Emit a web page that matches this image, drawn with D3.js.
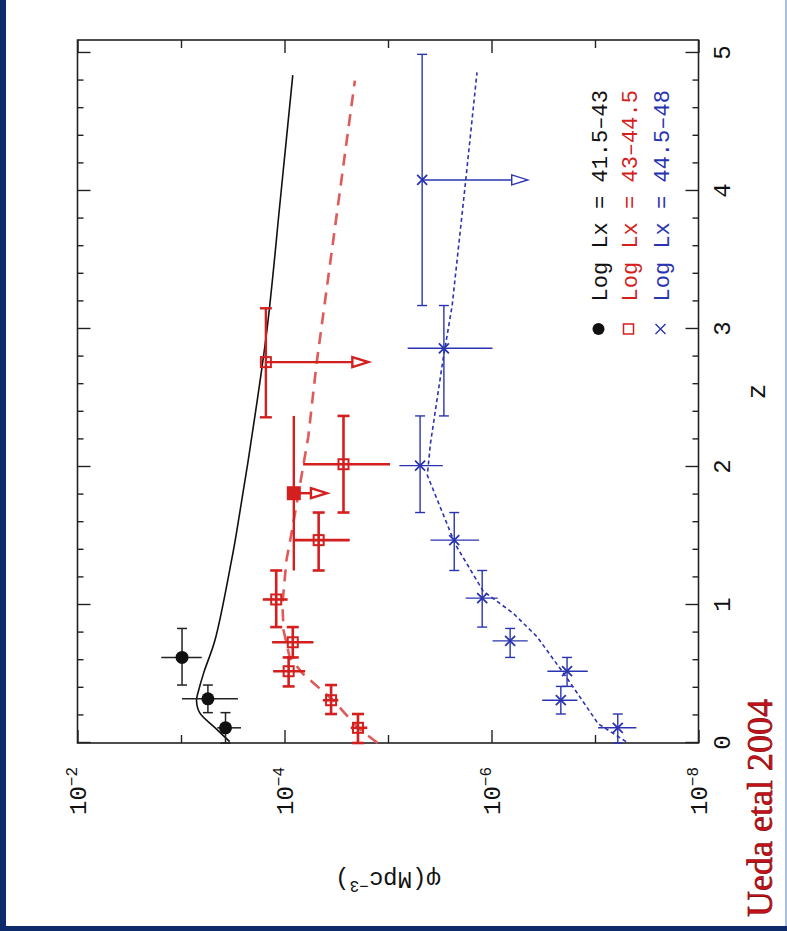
<!DOCTYPE html>
<html>
<head>
<meta charset="UTF-8">
<script src="https://d3js.org/d3.v7.min.js"></script>
<style>
  body { margin: 0; background: #fff; }
  svg { display: block; }
</style>
</head>
<body>
<svg width="787" height="931"></svg>
<script>
    // values; phi kept as log10
    // z, zLo, zHi, logPhi, logPhiHi, logPhiLo
    const blackPts = [
        [0.11, 0.00, 0.22, -3.43, -3.35, -3.58],
        [0.32, 0.22, 0.42, -3.26, -3.01, -3.55],
        [0.62, 0.42, 0.83, -3.01, -2.81, -3.20]
    ];
    const redPts = [
        [0.11, 0.00, 0.21, -4.71, -4.64, -4.80],
        [0.31, 0.21, 0.42, -4.45, -4.37, -4.52],
        [0.52, 0.41, 0.62, -4.04, -3.89, -4.20],
        [0.73, 0.62, 0.84, -4.08, -3.88, -4.28],
        [1.04, 0.84, 1.25, -3.92, -3.79, -4.03],
        [1.47, 1.25, 1.67, -4.33, -4.10, -4.63],
        [2.02, 1.67, 2.37, -4.57, -4.18, -5.02]
    ];
    // z, zLo, zHi, logPhi, arrow tip
    const redLimits = [[2.76, 2.36, 3.15, -3.82, -4.81]];
    const redFilled = [[1.81, 1.25, 2.37, -4.09, -4.41]];
    const bluePts = [
        [0.11, 0.00, 0.21, -7.22, -7.03, -7.40],
        [0.31, 0.21, 0.41, -6.67, -6.49, -6.83],
        [0.52, 0.41, 0.62, -6.73, -6.54, -6.93],
        [0.74, 0.62, 0.83, -6.18, -6.01, -6.35],
        [1.05, 0.84, 1.25, -5.91, -5.75, -6.06],
        [1.47, 1.25, 1.67, -5.64, -5.41, -5.88],
        [2.01, 1.67, 2.37, -5.31, -5.11, -5.53],
        [2.86, 2.37, 3.17, -5.54, -5.19, -6.01]
    ];
    const blueLimits = [[4.08, 3.17, 4.99, -5.33, -6.35]];

    // model curves: z, logPhi
    const blackModel = [[0.01, -3.47], [0.11, -3.33], [0.22, -3.18], [0.31, -3.15], [0.38, -3.17],
        [0.51, -3.22], [0.75, -3.33], [1.33, -3.49], [1.54, -3.54], [2.15, -3.67],
        [2.99, -3.83], [3.94, -3.96], [4.84, -4.08]];
    const redModel = [[0.0, -4.90], [0.11, -4.71], [0.31, -4.47], [0.50, -4.18], [0.62, -4.05],
        [0.82, -3.99], [1.01, -3.98], [1.33, -4.02], [1.57, -4.08], [2.22, -4.23], [2.75, -4.31],
        [3.36, -4.42], [4.80, -4.68]];
    const blueModel = [[0.01, -7.30], [0.14, -7.03], [0.47, -6.73], [0.77, -6.44], [0.94, -6.21],
        [1.10, -5.92], [1.44, -5.65], [1.94, -5.38], [2.17, -5.41], [2.77, -5.53],
        [3.17, -5.62], [4.07, -5.75], [4.86, -5.86]];

    const zTicks = [0, 1, 2, 3, 4, 5];
    const phiMajor = [-2, -4, -6, -8];
    const phiMinor = [-3, -5, -7];
    const legendLabels = ["Log Lx = 41.5\u201343", "Log Lx = 43\u201344.5", "Log Lx = 44.5\u201348"];

    const black = "#111", red = "#d41f1f", redLine = "#e05a5a", blue = "#2a34b0";
    const mono = "'Liberation Mono', 'DejaVu Sans Mono', monospace";

    const W = 703, H = 621;
    const svg = d3.select("svg");

    // page frame
    svg.append("rect").attr("width", 787).attr("height", 931).attr("fill", "#fff");
    svg.append("rect").attr("x", 0).attr("y", 0).attr("width", 6).attr("height", 931).attr("fill", "#0d2a6b");
    svg.append("rect").attr("x", 0).attr("y", 926).attr("width", 787).attr("height", 5).attr("fill", "#0d2a6b");
    svg.append("rect").attr("x", 785).attr("y", 0).attr("width", 2).attr("height", 926).attr("fill", "#a9bde0");

    // the whole plot is turned a quarter turn
    const g = svg.append("g").attr("transform", "translate(77.5,743) rotate(-90)");

    const x = d3.scaleLinear().domain([0, 5.094]).range([0, W]);
    const y = d3.scaleLog().domain([1e-2, 1e-8]).range([0, H]);
    const py = v => y(Math.pow(10, v));

    const zMinor = d3.range(0, 5.05, 0.2).filter(d => Math.abs(d - Math.round(d)) > 0.01);

    function zAxis(axisFn, ty, big, small, showLabels) {
        const a = g.append("g").attr("transform", `translate(0,${ty})`)
            .call(axisFn(x).tickValues(zTicks).tickSize(big).tickSizeOuter(0).tickPadding(14)
                .tickFormat(showLabels ? d3.format("d") : ""));
        a.select(".domain").remove();
        a.selectAll("line").attr("stroke", "#222").attr("stroke-width", 1.4);
        a.selectAll("text").attr("font-family", mono).attr("font-size", 24).attr("fill", black);
        const m = g.append("g").attr("transform", `translate(0,${ty})`)
            .call(axisFn(x).tickValues(zMinor).tickSize(small).tickSizeOuter(0).tickFormat(""));
        m.select(".domain").remove();
        m.selectAll("line").attr("stroke", "#222").attr("stroke-width", 1.4);
    }
    zAxis(d3.axisBottom, H, -13, -6, true);
    zAxis(d3.axisTop, 0, -13, -6, false);

    function phiAxis(axisFn, tx) {
        [[phiMajor, -13], [phiMinor, -8]].forEach(([vals, len]) => {
            const a = g.append("g").attr("transform", `translate(${tx},0)`)
                .call(axisFn(y).tickValues(vals.map(v => Math.pow(10, v))).tickSize(len).tickSizeOuter(0).tickFormat(""));
            a.select(".domain").remove();
            a.selectAll("line").attr("stroke", "#222").attr("stroke-width", 1.4);
        });
    }
    phiAxis(d3.axisLeft, 0);
    phiAxis(d3.axisRight, W);

    g.append("rect").attr("width", W).attr("height", H)
        .attr("fill", "none").attr("stroke", "#222").attr("stroke-width", 1.6);

    // phi tick labels 10^-n
    phiMajor.forEach(v => {
        const t = g.append("text").attr("x", -24).attr("y", py(v) + 8)
            .attr("text-anchor", "end").attr("font-family", mono).attr("font-size", 24).attr("fill", black);
        t.append("tspan").text("10");
        t.append("tspan").attr("dy", -9).attr("font-size", 16).text("\u2212" + (-v));
    });

    // axis titles
    g.append("text").attr("x", W / 2).attr("y", H + 66)
        .attr("text-anchor", "middle").attr("font-family", mono).attr("font-size", 26).attr("fill", black)
        .text("z");
    const yl = g.append("text").attr("transform", `translate(-129,${H / 2}) rotate(-90)`)
        .attr("text-anchor", "middle").attr("font-family", mono).attr("font-size", 24).attr("fill", black);
    yl.append("tspan").text("\u03c6(Mpc");
    yl.append("tspan").attr("dy", -9).attr("font-size", 16).text("\u22123");
    yl.append("tspan").attr("dy", 9).text(")");

    // model curves
    const line = d3.line().x(d => x(d[0])).y(d => py(d[1]));
    g.append("path").datum(blackModel).attr("d", line.curve(d3.curveCatmullRom))
        .attr("fill", "none").attr("stroke", black).attr("stroke-width", 1.6);
    line.curve(d3.curveLinear);
    g.append("path").datum(redModel).attr("d", line)
        .attr("fill", "none").attr("stroke", redLine).attr("stroke-width", 2.6).attr("stroke-dasharray", "12,8");
    g.append("path").datum(blueModel).attr("d", line)
        .attr("fill", "none").attr("stroke", blue).attr("stroke-width", 1.6).attr("stroke-dasharray", "4,3");

    // error bars: z bins with caps, phi range without
    function errBars(data, color, sw, cap, caps) {
        const e = g.append("g").attr("stroke", color).attr("stroke-width", sw).attr("fill", "none");
        data.forEach(d => {
            const cy = py(d[3]);
            e.append("line").attr("x1", x(d[1])).attr("x2", x(d[2])).attr("y1", cy).attr("y2", cy);
            if (caps) {
                [d[1], d[2]].forEach(zz => e.append("line")
                    .attr("x1", x(zz)).attr("x2", x(zz)).attr("y1", cy - cap).attr("y2", cy + cap));
            }
            if (d.length === 6) {
                e.append("line").attr("x1", x(d[0])).attr("x2", x(d[0])).attr("y1", py(d[4])).attr("y2", py(d[5]));
            } else {
                // upper limit arrow
                const tip = py(d[4]);
                e.append("line").attr("x1", x(d[0])).attr("x2", x(d[0])).attr("y1", cy).attr("y2", tip - 16);
                e.append("path").attr("fill", "#fff")
                    .attr("d", `M${x(d[0]) - 5},${tip - 16}L${x(d[0])},${tip}L${x(d[0]) + 5},${tip - 16}Z`);
            }
        });
    }
    errBars(blackPts, "#222", 1.5, 5, true);
    errBars(redPts, red, 2.6, 6, true);
    errBars(redLimits, red, 2.4, 6, true);
    errBars(redFilled, red, 2.4, 6, false);
    errBars(bluePts, blue, 1.4, 5, true);
    errBars(blueLimits, blue, 1.4, 5, true);

    // markers
    g.selectAll(".bdot").data(blackPts).enter().append("circle")
        .attr("cx", d => x(d[0])).attr("cy", d => py(d[3])).attr("r", 6.5).attr("fill", black);
    g.selectAll(".rsq").data(redPts.concat(redLimits)).enter().append("rect")
        .attr("x", d => x(d[0]) - 5).attr("y", d => py(d[3]) - 5).attr("width", 10).attr("height", 10)
        .attr("fill", "none").attr("stroke", red).attr("stroke-width", 2);
    g.selectAll(".rfill").data(redFilled).enter().append("rect")
        .attr("x", d => x(d[0]) - 7).attr("y", d => py(d[3]) - 7).attr("width", 14).attr("height", 14)
        .attr("fill", red);
    function cross(sel, cx, cy, s, color, sw) {
        sel.append("path").attr("d", `M${cx - s},${cy - s}L${cx + s},${cy + s}M${cx - s},${cy + s}L${cx + s},${cy - s}`)
            .attr("stroke", color).attr("stroke-width", sw).attr("fill", "none");
    }
    bluePts.concat(blueLimits).forEach(d => cross(g, x(d[0]), py(d[3]), 5, blue, 1.8));

    // legend
    const lz = x(3.0), lt = x(3.2);
    const ly = [521, 551, 583];
    g.append("circle").attr("cx", lz).attr("cy", ly[0]).attr("r", 6).attr("fill", black);
    g.append("rect").attr("x", lz - 5).attr("y", ly[1] - 5).attr("width", 10).attr("height", 10)
        .attr("fill", "none").attr("stroke", red).attr("stroke-width", 1.5);
    cross(g, lz, ly[2], 5, blue, 1.4);
    [black, red, blue].forEach((c, i) => {
        g.append("text").attr("x", lt).attr("y", ly[i] + 8)
            .attr("font-family", mono).attr("font-size", 22).attr("fill", c)
            .text(legendLabels[i]);
    });

    // slide credit
    svg.append("text").attr("transform", "translate(772,808) rotate(-90)")
        .attr("text-anchor", "middle").attr("font-family", "'Liberation Serif', 'Times New Roman', serif")
        .attr("font-size", 36).attr("fill", "#c8101a").attr("stroke", "#7a0000").attr("stroke-width", 0.6)
        .text("Ueda etal 2004");
</script>
</body>
</html>
